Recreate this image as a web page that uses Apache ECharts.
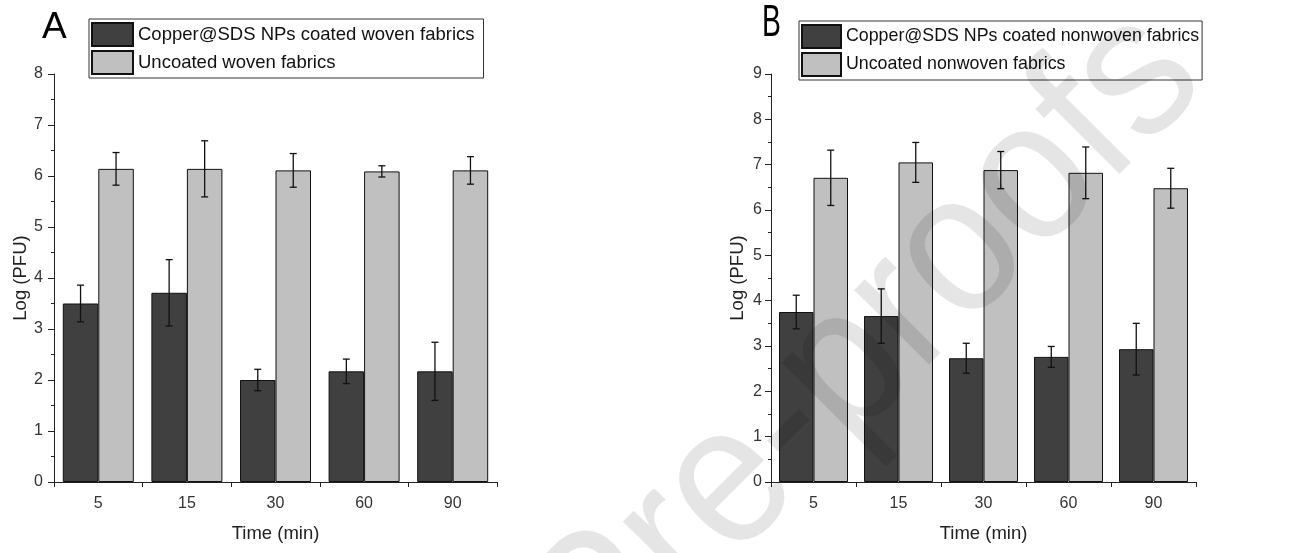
<!DOCTYPE html>
<html>
<head>
<meta charset="utf-8">
<script src="https://cdn.jsdelivr.net/npm/echarts@6/dist/echarts.min.js"></script>
<style>
html,body{margin:0;padding:0;background:#fff;}
#chart{width:1304px;height:553px;}
</style>
</head>
<body>
<div id="chart"></div>
<script>
const categories = ['5', '15', '30', '60', '90'];
const yTicksA = [0, 8, 1];
const yTicksB = [0, 9, 1];

const wovenCoated = [3.50, 3.71, 2.00, 2.17, 2.17];
const wovenCoatedErr = [0.36, 0.65, 0.21, 0.24, 0.57];
const wovenUncoated = [6.14, 6.14, 6.11, 6.09, 6.11];
const wovenUncoatedErr = [0.32, 0.55, 0.33, 0.11, 0.27];

const nonwovenCoated = [3.75, 3.66, 2.73, 2.76, 2.93];
const nonwovenCoatedErr = [0.37, 0.60, 0.33, 0.23, 0.57];
const nonwovenUncoated = [6.71, 7.05, 6.88, 6.82, 6.48];
const nonwovenUncoatedErr = [0.61, 0.44, 0.41, 0.57, 0.44];

const seriesNames = [
  'Copper@SDS NPs coated woven fabrics',
  'Uncoated woven fabrics',
  'Copper@SDS NPs coated nonwoven fabrics',
  'Uncoated nonwoven fabrics'
];

const FONT = 'Liberation Sans, Arial, sans-serif';
const DARK = '#404040';
const LIGHT = '#c0c0c0';
const BW_A = 35.5;
const BW_B = 34.5;

const chart = echarts.init(document.getElementById('chart'), null, {renderer: 'canvas'});

function errSeries(vals, errs, axisIdx, offset) {
  return {
    type: 'custom',
    xAxisIndex: axisIdx,
    yAxisIndex: axisIdx,
    silent: true,
    z: 5,
    data: vals.map((v, i) => [i, v, errs[i]]),
    renderItem: function (params, api) {
      const i = api.value(0), v = api.value(1), e = api.value(2);
      const top = api.coord([i, v + e]);
      const bot = api.coord([i, v - e]);
      const x = top[0] + offset;
      const c = 3.5;
      const st = {stroke: '#111', lineWidth: 1.3};
      return {
        type: 'group',
        children: [
          {type: 'line', shape: {x1: x, y1: top[1], x2: x, y2: bot[1]}, style: st},
          {type: 'line', shape: {x1: x - c, y1: top[1], x2: x + c, y2: top[1]}, style: st},
          {type: 'line', shape: {x1: x - c, y1: bot[1], x2: x + c, y2: bot[1]}, style: st}
        ]
      };
    }
  };
}

function xAx(gi) {
  return {
    type: 'category', gridIndex: gi, data: categories,
    name: 'Time (min)', nameLocation: 'middle', nameGap: 42,
    nameTextStyle: {fontFamily: FONT, fontSize: 18.5, color: '#222'},
    axisLine: {lineStyle: {color: '#222', width: 1}},
    axisTick: {show: true, length: 5, lineStyle: {color: '#222'}},
    axisLabel: {fontFamily: FONT, fontSize: 16, color: '#333', margin: 14},
    splitLine: {show: false}
  };
}
function yAx(gi, t, gap, lm) {
  return {
    type: 'value', gridIndex: gi, min: t[0], max: t[1], interval: t[2],
    name: 'Log (PFU)', nameLocation: 'middle', nameGap: gap, nameRotate: 90,
    nameTextStyle: {fontFamily: FONT, fontSize: 18.5, color: '#222'},
    axisLine: {show: true, lineStyle: {color: '#222', width: 1}},
    axisTick: {show: true, length: 6, lineStyle: {color: '#222'}},
    minorTick: {show: true, splitNumber: 2, length: 3, lineStyle: {color: '#222'}},
    axisLabel: {fontFamily: FONT, fontSize: 16, color: '#333', margin: lm},
    splitLine: {show: false}
  };
}

function barS(name, vals, axisIdx, color, bw) {
  return {
    name: name, type: 'bar', xAxisIndex: axisIdx, yAxisIndex: axisIdx,
    data: vals, barWidth: bw, barGap: '0%',
    itemStyle: {color: color, borderColor: '#111', borderWidth: 1},
    emphasis: {disabled: true}
  };
}

const option = {
  backgroundColor: '#fff',
  animation: false,
  textStyle: {fontFamily: FONT},
  grid: [
    {left: 54, top: 74, width: 443, height: 408, containLabel: false},
    {left: 771, top: 74, width: 425, height: 408, containLabel: false}
  ],
  legend: [
    {
      left: 89, top: 19, orient: 'vertical', icon: 'rect', selectedMode: false,
      itemWidth: 41, itemHeight: 23, itemGap: 3, padding: [3, 9, 3, 2],
      borderColor: '#333', borderWidth: 1, backgroundColor: '#fff',
      textStyle: {fontFamily: FONT, fontSize: 18.5, color: '#111'},
      data: [seriesNames[0], seriesNames[1]]
    },
    {
      left: 799, top: 21, orient: 'vertical', icon: 'rect', selectedMode: false,
      itemWidth: 39, itemHeight: 23, itemGap: 3, padding: [3, 3, 3, 2],
      borderColor: '#333', borderWidth: 1, backgroundColor: '#fff',
      textStyle: {fontFamily: FONT, fontSize: 17.8, color: '#111'},
      data: [seriesNames[2], seriesNames[3]]
    }
  ],
  xAxis: [xAx(0), xAx(1)],
  yAxis: [yAx(0, yTicksA, 16, 11), yAx(1, yTicksB, 24, 9)],
  series: [
    barS(seriesNames[0], wovenCoated, 0, DARK, BW_A),
    barS(seriesNames[1], wovenUncoated, 0, LIGHT, BW_A),
    barS(seriesNames[2], nonwovenCoated, 1, DARK, BW_B),
    barS(seriesNames[3], nonwovenUncoated, 1, LIGHT, BW_B),
    errSeries(wovenCoated, wovenCoatedErr, 0, -BW_A / 2),
    errSeries(wovenUncoated, wovenUncoatedErr, 0, BW_A / 2),
    errSeries(nonwovenCoated, nonwovenCoatedErr, 1, -BW_B / 2),
    errSeries(nonwovenUncoated, nonwovenUncoatedErr, 1, BW_B / 2)
  ],
  graphic: [
    {type: 'text', left: 42, top: 9, style: {text: 'A', fontFamily: FONT, fontSize: 37, fill: '#000'}},
    {type: 'text', x: 762, y: 1, scaleX: 0.63, style: {text: 'B', fontFamily: FONT, fontSize: 45, fill: '#000'}},
    {type: 'text', x: 1241, y: 116, rotation: Math.PI / 4, scaleX: 0.92, z: 100, silent: true,
     style: {text: 'Journal Pre-proofs', fontFamily: FONT, fontSize: 200, fill: 'rgba(0,0,0,0.1)', align: 'right', verticalAlign: 'bottom'}}
  ]
};
chart.setOption(option);
</script>
</body>
</html>
